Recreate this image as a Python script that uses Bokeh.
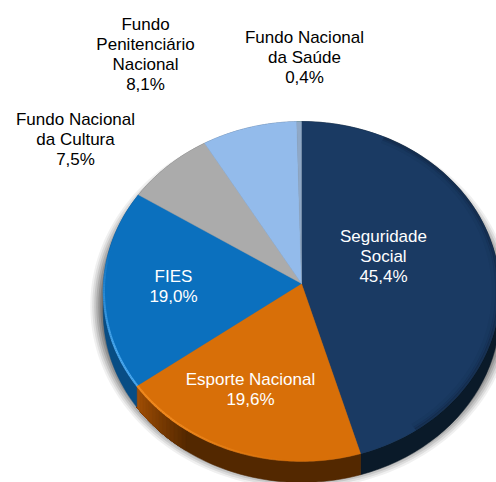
import numpy as np
from bokeh.plotting import figure
from bokeh.models import Range1d
from bokeh.core.properties import value
from bokeh.embed import file_html
from bokeh.resources import INLINE

categories = ["Seguridade Social", "Esporte Nacional", "FIES", "Fundo Nacional da Cultura", "Fundo Penitenciário Nacional", "Fundo Nacional da Saúde"]
shares = [45.4, 19.6, 19.0, 7.5, 8.1, 0.4]
top_colors = ["#1A3A63", "#D86F08", "#0B70BE", "#ABABAB", "#93BBEB", "#8FA8C6"]
side_dark = ["#0A1826", "#532800", "#06406E", "#666666", "#556E8C", "#5D6A7A"]
side_light = ["#0E2238", "#A04E05", "#0A5A9A", "#777777", "#6080A0", "#6A7A8A"]
rim_colors = ["#14304F", "#F08A20", "#4BA8EE", "#B5B5B5", "#9CC2EE", "#A5BAD2"]
label_lines = [
    ["Seguridade", "Social", "45,4%"],
    ["Esporte Nacional", "19,6%"],
    ["FIES", "19,0%"],
    ["Fundo Nacional", "da Cultura", "7,5%"],
    ["Fundo", "Penitenciário", "Nacional", "8,1%"],
    ["Fundo Nacional", "da Saúde", "0,4%"],
]
label_x = [383, 250, 173, 75, 145, 304]
label_y = [236, 379, 276, 119, 24, 37]
label_colors = ["#FFFFFF", "#FFFFFF", "#FFFFFF", "#000000", "#000000", "#000000"]

CX, CY, RX, A, K, DEPTH = 301.0, 283.0, 198.0, 169.6, 0.047, 21.0
W, H = 496, 482


def proj(theta, r=1.0):
    u, v = r * np.sin(theta), r * np.cos(theta)
    d = 1 + K * v
    return CX + RX * u / d, CY - A * v / d


def mix(c1, c2, f):
    a = [int(c1[k:k + 2], 16) for k in (1, 3, 5)]
    b = [int(c2[k:k + 2], 16) for k in (1, 3, 5)]
    return "#%02x%02x%02x" % tuple(int(x + (y - x) * f) for x, y in zip(a, b))


p = figure(width=W, height=H, output_backend="svg", toolbar_location=None,
           x_range=Range1d(0, W), y_range=Range1d(H, 0),
           min_border=0, outline_line_color=None, background_fill_color="white")
p.axis.visible = False
p.grid.visible = False

# soft shadow
full = np.linspace(0, 2 * np.pi, 240)
fx, fy = proj(full)
mx, my = fx.mean(), fy.mean()
for grow, a in zip([13, 11, 9, 7, 5, 3, 1], [0.06, 0.08, 0.10, 0.12, 0.14, 0.16, 0.18]):
    sx = mx + (fx - mx) * (1 + grow / 198)
    sy = my + 14 + (fy - my) * (1 + grow / 170)
    p.patch(sx, sy, fill_color="#000000", fill_alpha=a, line_color=None)

fractions = np.cumsum([0] + shares) / sum(shares)
starts = fractions[:-1] * 2 * np.pi
ends = fractions[1:] * 2 * np.pi


def side(t0, t1, col):
    ts = np.linspace(t0, t1, 60)
    xs, ys = proj(ts)
    p.patch(np.r_[xs, xs[::-1]], np.r_[ys, ys[::-1] + DEPTH], fill_color=col, line_color=col, line_width=0.5)


# extruded side
for i in range(len(shares)):
    s, e = starts[i], ends[i]
    if i == 1:
        # Esporte: dark over most of it, brightening towards its left end
        side(s, e, side_dark[i])
        bands = 14
        begin = s + 0.72 * (e - s)
        for j in range(bands):
            side(begin + (e - begin) * j / bands, e, mix(side_dark[i], side_light[i], (j + 1) / bands))
    elif i == 2:
        side(s, e, mix(side_dark[i], side_light[i], 0.5))
    else:
        side(s, e, mix(side_dark[i], side_light[i], 0.2))

# top face
for i in range(len(shares)):
    ts = np.linspace(starts[i], ends[i], 80)
    xs, ys = proj(ts)
    p.patch(np.r_[CX, xs], np.r_[CY, ys], fill_color=top_colors[i], line_color=top_colors[i], line_width=0.4)

# bevel: dark on the right of the big slice, bright along the front left rim
ts = np.linspace(starts[0] + 0.45, ends[0] - 0.3, 100)
for r, a, lw in [(0.995, 0.22, 3), (0.985, 0.12, 3), (0.97, 0.05, 4)]:
    xs, ys = proj(ts, r)
    p.line(xs, ys, line_color="#081420", line_alpha=a, line_width=lw)
for i in (1, 2):
    ts = np.linspace(starts[i] + (0.35 if i == 1 else 0.0), ends[i] - (0.0 if i == 1 else 0.35), 80)
    xs, ys = proj(ts, 0.997)
    seg = len(ts) - 1
    for j in range(seg):
        frac = j / seg if i == 1 else 1 - j / seg
        p.line(xs[j:j + 2], ys[j:j + 2], line_color=rim_colors[i], line_alpha=min(1.0, frac * 1.4), line_width=2.2)

# labels
for lines, x, y, col in zip(label_lines, label_x, label_y, label_colors):
    for k, line in enumerate(lines):
        p.text([x], [y + 20 * k], text=[line], text_color=col, text_align="center", text_baseline="middle",
               text_font=value("Liberation Sans"), text_font_size="17px")

open("out.html", "w").write(file_html(p, INLINE))
